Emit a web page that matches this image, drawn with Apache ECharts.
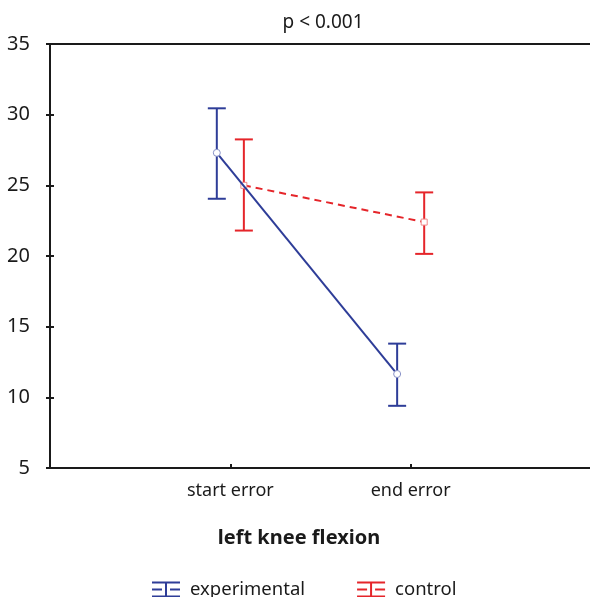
<!DOCTYPE html>
<html>
<head>
<meta charset="utf-8">
<script src="https://cdn.jsdelivr.net/npm/echarts@6/dist/echarts.min.js"></script>
<style>html,body{margin:0;padding:0;background:#fff;overflow:hidden;}#c{width:590px;height:597px;}</style>
</head>
<body>
<div id="c"></div>
<script>
const categories = ['start error', 'end error'];
const seriesNames = ['experimental', 'control'];
const expMean = [27.3, 11.65];
const expLow = [24.05, 9.4];
const expHigh = [30.45, 13.8];
const ctrlMean = [25.0, 22.4];
const ctrlLow = [21.8, 20.15];
const ctrlHigh = [28.25, 24.5];
const yTicks = [5, 10, 15, 20, 25, 30, 35];

const BLUE = '#2e3d98';
const RED = '#e5252a';
const INK = '#1a1a1a';
const FONT = 'Noto Sans';
const OFF = 0.075;

function pts(means, off) { return means.map((m, i) => [i + 1 + off, m]); }
function bars(lo, hi, off) { return lo.map((l, i) => [i + 1 + off, l, hi[i]]); }

function errRender(color) {
  return function (params, api) {
    const x = api.value(0);
    const a = api.coord([x, api.value(1)]);
    const b = api.coord([x, api.value(2)]);
    const hw = 9;
    const st = { stroke: color, lineWidth: 2 };
    return { type: 'group', children: [
      { type: 'line', shape: { x1: a[0], y1: a[1], x2: b[0], y2: b[1] }, style: st },
      { type: 'line', shape: { x1: a[0] - hw, y1: a[1], x2: a[0] + hw, y2: a[1] }, style: st },
      { type: 'line', shape: { x1: b[0] - hw, y1: b[1], x2: b[0] + hw, y2: b[1] }, style: st }
    ]};
  };
}

const iconPath = 'path://M0,0H28V2H0Z M13,2H15V14H13Z M0,14H28V16H0Z M0,7H10V9H0Z M18,7H28V9H18Z';

const chart = echarts.init(document.getElementById('c'), null, { renderer: 'canvas', width: 590, height: 597 });
chart.setOption({
  animation: false,
  backgroundColor: '#fff',
  textStyle: { fontFamily: FONT },
  title: [
    { text: 'p < 0.001', left: 318, top: 8, textAlign: 'center',
      textStyle: { fontFamily: FONT, fontSize: 19, fontWeight: 'normal', color: INK } },
    { text: 'left knee flexion', left: 294, top: 523, textAlign: 'center',
      textStyle: { fontFamily: FONT, fontSize: 20, fontWeight: 'bold', color: INK } }
  ],
  legend: {
    top: 575, left: 147,
    itemWidth: 28, itemHeight: 16, itemGap: 52,
    textStyle: { fontFamily: FONT, fontSize: 18.5, color: INK, padding: [0, 0, 0, 5] },
    data: [
      { name: seriesNames[0], icon: iconPath, itemStyle: { color: BLUE } },
      { name: seriesNames[1], icon: iconPath, itemStyle: { color: RED } }
    ]
  },
  grid: { left: 50, width: 541, top: 44, height: 424, outerBoundsMode: 'none', containLabel: false },
  xAxis: [
    { type: 'value', min: 0, max: 3, interval: 1, position: 'bottom',
      axisLine: { show: true, lineStyle: { color: INK, width: 2 } },
      axisTick: { show: true, inside: true, length: 4, lineStyle: { color: INK, width: 2 } },
      axisLabel: { margin: 14, fontSize: 18, color: INK, fontFamily: FONT,
        formatter: v => (v >= 1 && v <= categories.length && Number.isInteger(v)) ? categories[v - 1] : '' },
      splitLine: { show: false } },
    { type: 'value', min: 0, max: 3, interval: 1, position: 'top',
      axisLine: { show: true, lineStyle: { color: INK, width: 2 } },
      axisTick: { show: false }, axisLabel: { show: false }, splitLine: { show: false } }
  ],
  yAxis: [
    { type: 'value', min: 5, max: 35, interval: 5, position: 'left',
      axisLine: { show: true, lineStyle: { color: INK, width: 2 } },
      axisTick: { show: true, inside: true, length: 4, lineStyle: { color: INK, width: 2 } },
      axisLabel: { margin: 20, fontSize: 20, color: INK, fontFamily: FONT,
        formatter: v => yTicks.includes(v) ? String(v) : '' },
      splitLine: { show: false } },
    { type: 'value', min: 5, max: 35, interval: 5, position: 'right',
      axisLine: { show: false },
      axisTick: { show: true, inside: true, length: 4, lineStyle: { color: INK, width: 2 } },
      axisLabel: { show: false }, splitLine: { show: false } }
  ],
  series: [
    { name: seriesNames[0], type: 'custom', renderItem: errRender(BLUE),
      data: bars(expLow, expHigh, -OFF), encode: { x: 0, y: [1, 2] }, z: 2 },
    { name: seriesNames[1], type: 'custom', renderItem: errRender(RED),
      data: bars(ctrlLow, ctrlHigh, OFF), encode: { x: 0, y: [1, 2] }, z: 2 },
    { name: seriesNames[1], type: 'line', data: pts(ctrlMean, OFF), z: 3,
      lineStyle: { color: RED, width: 2, type: [7, 5] },
      symbol: 'rect', symbolSize: 6, showSymbol: true,
      itemStyle: { color: '#fff', borderColor: '#f08a8c', borderWidth: 1 } },
    { name: seriesNames[0], type: 'line', data: pts(expMean, -OFF), z: 4,
      lineStyle: { color: BLUE, width: 2 },
      symbol: 'circle', symbolSize: 7, showSymbol: true,
      itemStyle: { color: '#fff', borderColor: '#8a93c8', borderWidth: 1 } }
  ]
});
</script>
</body>
</html>
